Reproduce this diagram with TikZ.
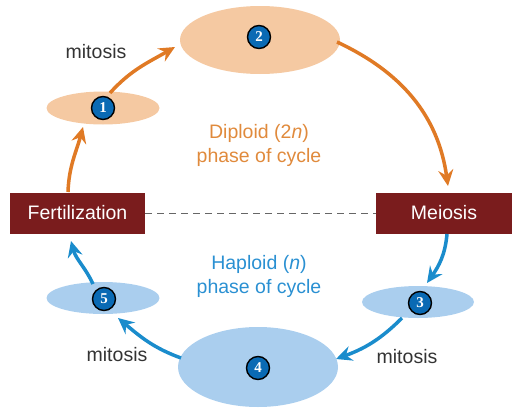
\documentclass[tikz,border=0pt]{standalone}
\usepackage{fontspec}
\setmainfont{Liberation Sans}
\newfontfamily\numfont{Liberation Serif}
\usetikzlibrary{shapes.geometric,arrows.meta}
\definecolor{orarrow}{HTML}{E07A25}
\definecolor{peach}{HTML}{F5C9A2}
\definecolor{blarrow}{HTML}{1A8CCC}
\definecolor{lblue}{HTML}{AACEEE}
\definecolor{boxred}{HTML}{7A1C1D}
\definecolor{ortext}{HTML}{E08A3C}
\definecolor{bltext}{HTML}{2A90D2}
\definecolor{numblue}{HTML}{0A6AB4}
\definecolor{darktext}{HTML}{333333}
\begin{document}
\begin{tikzpicture}[x=1pt,y=-1pt,
  cell/.style={ellipse,inner sep=0pt},
  dcell/.style={cell,fill=peach},
  hcell/.style={cell,fill=lblue},
  num/.style={circle,fill=numblue,draw=black,line width=1.4pt,minimum size=23pt,inner sep=0pt,text=white,font=\numfont\bfseries\fontsize{15}{15}\selectfont},
  phasebox/.style={rectangle,fill=boxred,text=white,minimum height=41pt,font=\fontsize{19.5}{21}\selectfont},
  lbl/.style={font=\fontsize{19.5}{24}\selectfont},
  oarr/.style={draw=orarrow,line width=3.5pt,-{Stealth[length=16pt,width=15pt,inset=5.5pt]}},
  barr/.style={draw=blarrow,line width=3.5pt,-{Stealth[length=16pt,width=15pt,inset=5.5pt]}}
]
\useasboundingbox (0,0) rectangle (520,410);
% cells
\node[dcell,minimum width=113pt,minimum height=33pt] (c1) at (103,108) {};
\node[dcell,minimum width=160pt,minimum height=68pt] (c2) at (260,40) {};
\node[hcell,minimum width=112pt,minimum height=32pt] (c3) at (418,302) {};
\node[hcell,minimum width=160pt,minimum height=80pt] (c4) at (258,367) {};
\node[hcell,minimum width=113pt,minimum height=32pt] (c5) at (103,298) {};
% numbers
\node[num] (n1) at (103,108) {1};
\node[num] (n2) at (259,37) {2};
\node[num] (n3) at (420,303) {3};
\node[num] (n4) at (258,368) {4};
\node[num] (n5) at (104,299) {5};
% boxes
\node[phasebox,minimum width=135pt] (fert) at (77.5,213) {Fertilization};
\node[phasebox,minimum width=136pt] (mei) at (444,213) {Meiosis};
\draw[gray!80!black,line width=0.9pt,dash pattern=on 7pt off 5pt] (fert.east) -- (mei.west);
% labels
\node[lbl,text=darktext] (m1) at (96,52) {mitosis};
\node[lbl,text=darktext] (m2) at (117,355) {mitosis};
\node[lbl,text=darktext] (m3) at (407,357) {mitosis};
\node[lbl,text=ortext,align=center] (dip) at (259,145) {Diploid (2\textit{n})\\phase of cycle};
\node[lbl,text=bltext,align=center] (hap) at (259,276) {Haploid (\textit{n})\\phase of cycle};
% coordinates for arrow ends
\coordinate (a1s) at (68,192);
\coordinate (a1e) at (83,127);
\coordinate (a2s) at (110,93);
\coordinate (a2e) at (175,47);
\coordinate (a3s) at (337,42);
\coordinate (a3e) at (448,186);
\coordinate (b1s) at (447,234);
\coordinate (b1e) at (427,283);
\coordinate (b2s) at (402,318);
\coordinate (b2e) at (336,359);
\coordinate (b3s) at (181,358);
\coordinate (b3e) at (118,318);
\coordinate (b4s) at (93,284);
\coordinate (b4e) at (71,241);
% arrows
\draw[oarr] (a1s) to[out=88,in=-105] (a1e);
\draw[oarr] (a2s) to[out=48,in=-150] (a2e);
\draw[oarr] (a3s) to[out=-25,in=98] (a3e);
\draw[barr] (b1s) to[out=-95,in=55] (b1e);
\draw[barr] (b2s) to[out=-135,in=20] (b2e);
\draw[barr] (b3s) to[out=160,in=-40] (b3e);
\draw[barr] (b4s) to[out=115,in=-75] (b4e);
\end{tikzpicture}
\end{document}
